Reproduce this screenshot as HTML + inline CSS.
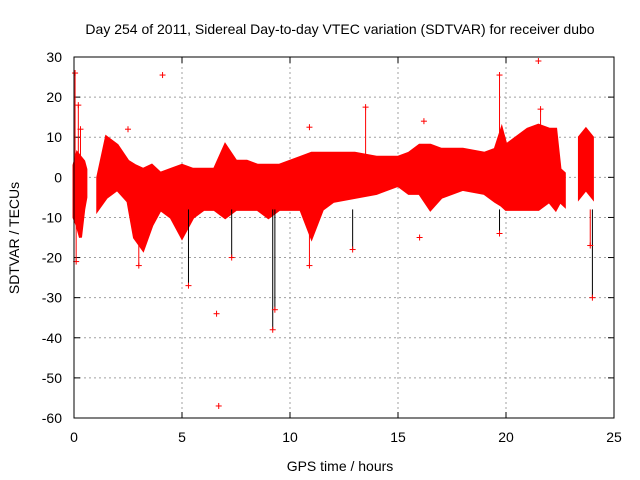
<!DOCTYPE html>
<html><head><meta charset="utf-8"><style>
body{margin:0;background:#fff}
svg{display:block;font-family:"Liberation Sans",sans-serif}
</style></head><body>
<svg id="c" width="640" height="480"></svg>
<script>
const xTicks=[0,5,10,15,20,25];
const yTicks=[30,20,10,0,-10,-20,-30,-40,-50,-60];
const segHours=[[0,0.15,0.3,0.45,0.55],[1.1,1.5,2.0,2.5,2.8,3.2,3.6,4.0,4.5,5.0,5.5,6.0,6.5,7.0,7.5,8.0,8.5,9.0,9.5,10.0,10.5,11.0,11.5,12.0,13.0,14.0,15.0,15.5,16.0,16.5,17.0,18.0,19.0,19.5,19.8,20.0,20.5,21.0,21.5,22.0,22.3,22.5,22.7],[23.4,23.7,24.0]];
const segUpper=[[3,6,5,4,2],[0,10,8,4,3,2,3,1,2,3,2,2,2,8,4,4,3,3,3,4,5,6,6,6,6,5,5,6,8,8,7,7,6,7,12,8,10,12,13,12,12,2,1],[10,12,10]];
const segLower=[[-10,-12,-15,-8,-5],[-8,-5,-3,-6,-15,-18,-12,-8,-10,-15,-10,-8,-8,-10,-8,-8,-8,-10,-8,-8,-8,-15,-8,-6,-5,-4,-2,-4,-4,-8,-5,-3,-4,-6,-7,-8,-8,-8,-8,-6,-8,-6,-7],[-5,-3,-5]];
const spikeHours=[0.1,0.2,0.3,0.05,2.5,4.1,5.3,6.6,6.7,9.2,9.3,10.9,10.9,13.5,12.9,16.2,16.0,19.7,19.7,21.5,21.6,24.0,23.9,3.0,7.3];
const spikeVals=[-21,18,12,26,12,25.5,-27,-34,-57,-38,-33,12.5,-22,17.5,-18,14,-15,25.5,-14,29,17,-30,-17,-22,-20];
// 0 = isolated point, 1 = red error bar, 2 = black error bar
const spikeBar=[1,1,1,1,0,0,2,0,0,2,2,0,1,1,2,0,0,1,2,0,1,2,1,1,2];
const L=74,R=614,T=57,B=418;
const X=h=>L+(h-0)/(25-0)*(R-L);
const Y=v=>T+(30-v)/(90)*(B-T);
const svg=document.getElementById('c');
const NS='http://www.w3.org/2000/svg';
function mk(t,a,p){const e=document.createElementNS(NS,t);for(const k in a)e.setAttribute(k,a[k]);(p||svg).appendChild(e);return e;}
xTicks.forEach(t=>{
 if(t>0&&t<25){const g=mk('line',{x1:X(t),x2:X(t),y1:T,y2:B,stroke:'#a0a0a0','stroke-dasharray':'2,3','stroke-width':1});
 
 }
 const tx=mk('text',{x:X(t),y:B+24,'font-size':14,'text-anchor':'middle',fill:'#000'});tx.textContent=t;
 
 
 mk('line',{x1:X(t),x2:X(t),y1:B,y2:B-6,stroke:'#000'});mk('line',{x1:X(t),x2:X(t),y1:T,y2:T+6,stroke:'#000'});
});
yTicks.forEach(t=>{
 if(t<30&&t>-60){const g=mk('line',{x1:L,x2:R,y1:Y(t),y2:Y(t),stroke:'#a0a0a0','stroke-dasharray':'2,3','stroke-width':1});
 
 }
 const tx=mk('text',{x:L-12,y:Y(t)+5,'font-size':14,'text-anchor':'end',fill:'#000'});tx.textContent=t;
 
 
 mk('line',{x1:L,x2:L+6,y1:Y(t),y2:Y(t),stroke:'#000'});mk('line',{x1:R,x2:R-6,y1:Y(t),y2:Y(t),stroke:'#000'});
});
segHours.forEach((hs,i)=>{
 let d='M'+hs.map((h,j)=>X(h)+','+Y(segUpper[i][j])).join('L');
 d+='L'+hs.map((h,j)=>X(h)+','+Y(segLower[i][j])).reverse().join('L')+'Z';
 const p=mk('path',{d:d,fill:'#ff0000',stroke:'#ff0000','stroke-width':3});
 
 
});
spikeHours.forEach((h,i)=>{
 const v=spikeVals[i];const base=v>0?5:-8;
 const g=mk('g',{});
 
 
 if(spikeBar[i])mk('line',{x1:X(h),x2:X(h),y1:Y(base),y2:Y(v),stroke:spikeBar[i]===2?'#000':'#ff0000','stroke-width':1},g);
 mk('line',{x1:X(h)-3,x2:X(h)+3,y1:Y(v),y2:Y(v),stroke:'#ff0000'},g);
 mk('line',{x1:X(h),x2:X(h),y1:Y(v)-3,y2:Y(v)+3,stroke:'#ff0000'},g);
});
const fr=mk('rect',{x:L,y:T,width:R-L,height:B-T,fill:'none',stroke:'#000'});


const ti=mk('text',{x:340,y:34,'font-size':14,'text-anchor':'middle'});ti.textContent='Day 254 of 2011, Sidereal Day-to-day VTEC variation (SDTVAR) for receiver dubo';


const xl=mk('text',{x:340,y:471,'font-size':14,'text-anchor':'middle'});xl.textContent='GPS time / hours';


const yl=mk('text',{x:0,y:0,'font-size':14,'text-anchor':'middle',transform:'translate(19,238) rotate(-90)'});yl.textContent='SDTVAR / TECUs';


</script>
</body></html>
